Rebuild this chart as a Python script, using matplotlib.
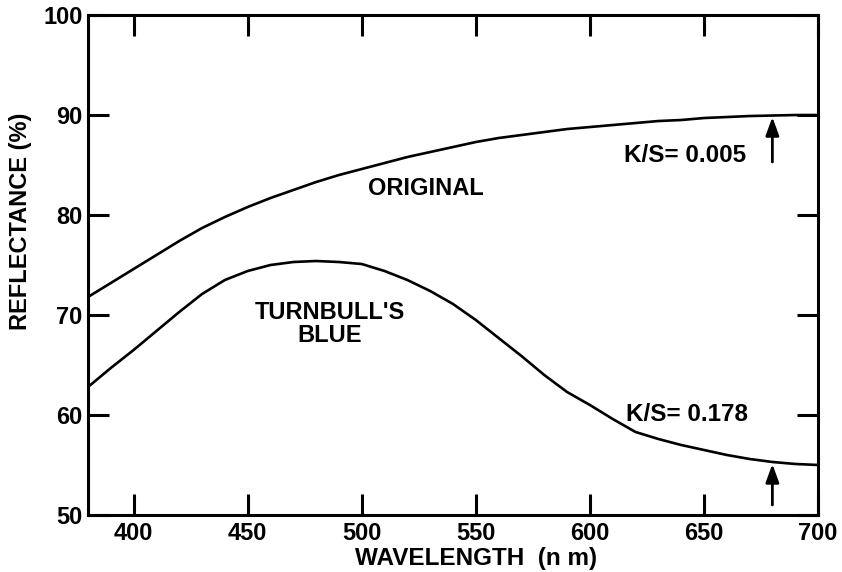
import matplotlib
matplotlib.use("Agg")
import matplotlib.pyplot as plt

plt.rcParams['font.family'] = ['Liberation Sans', 'DejaVu Sans']
plt.rcParams['font.weight'] = 'bold'

# wavelength grid (nm) and reflectance read every 10 nm
wavelength = [380, 390, 400, 410, 420, 430, 440, 450, 460, 470, 480,
              490, 500, 510, 520, 530, 540, 550, 560, 570, 580, 590,
              600, 610, 620, 630, 640, 650, 660, 670, 680, 690, 700]

original = [71.8, 73.2, 74.6, 76.0, 77.4, 78.7, 79.8, 80.8, 81.7, 82.5, 83.3,
            84.0, 84.6, 85.2, 85.8, 86.3, 86.8, 87.3, 87.7, 88.0, 88.3, 88.6,
            88.8, 89.0, 89.2, 89.4, 89.5, 89.7, 89.8, 89.9, 89.95, 90.0, 90.0]

turnbull = [62.8, 64.7, 66.5, 68.4, 70.3, 72.1, 73.5, 74.4, 75.0, 75.3, 75.4,
            75.3, 75.1, 74.4, 73.5, 72.4, 71.1, 69.5, 67.7, 65.9, 64.0, 62.3,
            61.0, 59.6, 58.3, 57.6, 57.0, 56.5, 56.0, 55.6, 55.3, 55.1, 55.0]

xticks = [400, 450, 500, 550, 600, 650, 700]
yticks = [50, 60, 70, 80, 90, 100]

# K/S labels and the arrows pointing at each curve at 680 nm
ks_labels = ['K/S= 0.005', 'K/S= 0.178']
ks_text_pos = [(615, 86.0), (616, 60.0)]
arrow_x = 680
arrow_tails = [85.3, 51.0]
arrow_heads = [89.8, 55.1]

fig = plt.figure(figsize=(8.42, 5.72), dpi=100)
ax = fig.add_axes([0.1045, 0.0997, 0.867, 0.874])

ax.plot(wavelength, original, color='black', lw=1.9)
ax.plot(wavelength, turnbull, color='black', lw=1.9)

ax.set_xlim(380, 700)
ax.set_ylim(50, 100)
ax.set_xticks(xticks)
ax.set_yticks(yticks)
ax.tick_params(direction='in', length=15, width=2.2, labelsize=17,
               top=True, right=True, pad=5)
ax.tick_params(axis='y', pad=4)
for s in ax.spines.values():
    s.set_linewidth(2.2)

ax.set_xlabel('WAVELENGTH  (n m)', fontsize=17.5, fontweight='bold')
ax.set_ylabel('REFLECTANCE (%)', fontsize=17, fontweight='bold')
ax.xaxis.set_label_coords(0.531, -0.064)
ax.yaxis.set_label_coords(-0.077, 0.588)

ax.text(528, 82.7, 'ORIGINAL', fontsize=17, fontweight='bold',
        ha='center', va='center')
ax.text(486, 69.1, "TURNBULL'S\nBLUE", fontsize=17, fontweight='bold',
        ha='center', va='center', multialignment='center', linespacing=0.95)

for lab, (tx, ty) in zip(ks_labels, ks_text_pos):
    ax.text(tx, ty, lab, fontsize=17.5, fontweight='bold',
            ha='left', va='center')

for tail, head in zip(arrow_tails, arrow_heads):
    ax.annotate('', xy=(arrow_x, head), xytext=(arrow_x, tail),
                arrowprops=dict(arrowstyle='-|>,head_width=0.4,head_length=1.1',
                                color='black', lw=2, shrinkA=0, shrinkB=0))

fig.savefig('out.png', dpi=100)
